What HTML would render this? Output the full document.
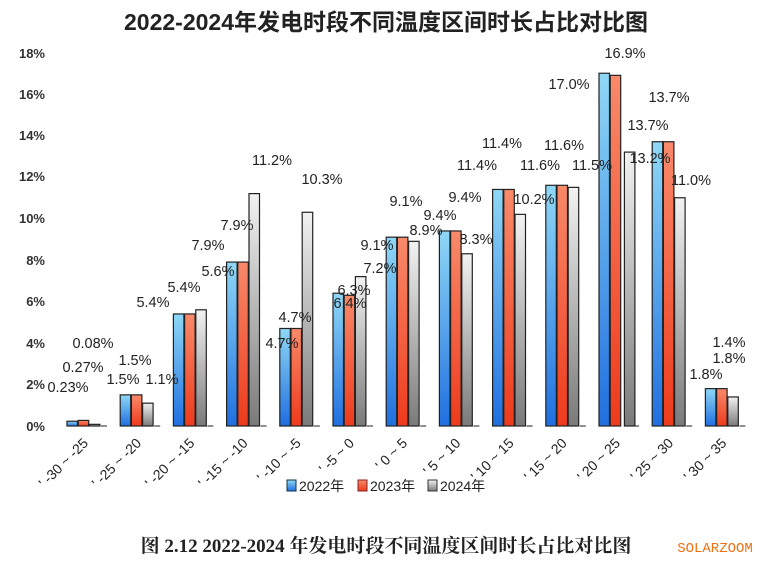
<!DOCTYPE html><html><head><meta charset="utf-8"><style>body{margin:0;background:#fff}svg{display:block}</style></head><body>
<svg width="772" height="578" viewBox="0 0 772 578" xmlns="http://www.w3.org/2000/svg" font-family="Liberation Sans, Noto Sans CJK SC, sans-serif">
<defs>
<linearGradient id="b" x1="0" y1="0" x2="0" y2="1"><stop offset="0" stop-color="#8fd8f6"/><stop offset="1" stop-color="#1f6fe0"/></linearGradient>
<linearGradient id="r" x1="0" y1="0" x2="0" y2="1"><stop offset="0" stop-color="#f88a6a"/><stop offset="1" stop-color="#ee3a1c"/></linearGradient>
<linearGradient id="g" x1="0" y1="0" x2="0" y2="1"><stop offset="0" stop-color="#f2f2f2"/><stop offset="1" stop-color="#7a7a7a"/></linearGradient>
</defs>
<text x="386" y="30" text-anchor="middle" font-size="23" font-weight="bold" fill="#222">2022-2024年发电时段不同温度区间时长占比对比图</text>
<g font-size="13" font-weight="bold" fill="#333" text-anchor="end">
<text x="45" y="58">18%</text><text x="45" y="99">16%</text><text x="45" y="140">14%</text><text x="45" y="181">12%</text><text x="45" y="223">10%</text><text x="45" y="265">8%</text><text x="45" y="306">6%</text><text x="45" y="348">4%</text><text x="45" y="389">2%</text><text x="45" y="431">0%</text>
</g>
<g id="bars" stroke="#222" stroke-width="1.2"></g>
<g id="labs" font-size="14.5" fill="#222" text-anchor="middle"></g>
<g id="cats" font-size="14" fill="#222"></g>
<g font-size="14" fill="#222">
<rect x="287" y="480" width="9" height="11" fill="url(#b)" stroke="#134"/><text x="299" y="491">2022年</text>
<rect x="358" y="480" width="9" height="11" fill="url(#r)" stroke="#822"/><text x="370" y="491">2023年</text>
<rect x="428" y="480" width="9" height="11" fill="url(#g)" stroke="#333"/><text x="440" y="491">2024年</text>
</g>
<text x="386" y="552" text-anchor="middle" font-size="19" font-weight="bold" fill="#222" font-family="Liberation Serif, Noto Serif CJK SC, serif">图 2.12 2022-2024 年发电时段不同温度区间时长占比对比图</text>
<text x="715" y="552" text-anchor="middle" font-size="14" fill="#f07010" font-family="Liberation Mono, monospace">SOLARZOOM</text>
<script>
var d=[[0.23,0.27,0.08],[1.5,1.5,1.1],[5.4,5.4,5.6],[7.9,7.9,11.2],[4.7,4.7,10.3],[6.4,6.3,7.2],[9.1,9.1,8.9],[9.4,9.4,8.3],[11.4,11.4,10.2],[11.6,11.6,11.5],[17.0,16.9,13.2],[13.7,13.7,11.0],[1.8,1.8,1.4]];
var L=[[[68,392],[83,372],[93,348]],[[123,384],[135,365],[162,384]],[[153,307],[184,292],[218,276]],[[208,250],[237,230],[272,165]],[[282,348],[295,322],[322,184]],[[350,308],[354,295],[380,273]],[[377,250],[406,206],[426,235]],[[440,220],[465,202],[476,244]],[[477,170],[502,148],[534,204]],[[540,170],[564,150],[592,170]],[[569,89],[625,58],[650,163]],[[648,130],[669,102],[691,185]],[[706,379],[729,363],[729,347]]];
var cats=["-30 ~ -25","-25 ~ -20","-20 ~ -15","-15 ~ -10","-10 ~ -5","-5 ~ 0","0 ~ 5","5 ~ 10","10 ~ 15","15 ~ 20","20 ~ 25","25 ~ 30","30 ~ 35"];
var ns="http://www.w3.org/2000/svg",B=document.getElementById("bars"),T=document.getElementById("labs"),C=document.getElementById("cats");
function el(t,a,p){var e=document.createElementNS(ns,t);for(var k in a)e.setAttribute(k,a[k]);p.appendChild(e);return e;}
var f=["url(#b)","url(#r)","url(#g)"];
for(var i=0;i<13;i++){var x0=67+i*53.2;
for(var j=0;j<3;j++){var v=d[i][j],h=v*20.75,x=x0+j*11.2;if(i==10&&j==2)x+=3;
el("rect",{x:x,y:426-h,width:10.5,height:h,fill:f[j]},B);
var t=el("text",{x:L[i][j][0],y:L[i][j][1]},T);t.textContent=(v<1&&i==0?v.toFixed(2):v.toFixed(1))+"%";}
el("line",{x1:x0+34,y1:426,x2:x0+40,y2:426,"stroke-width":1},B);
var cx=x0+22,c=el("text",{x:cx,y:444,"text-anchor":"end",transform:"rotate(-45 "+cx+" 444)"},C);c.textContent="' "+cats[i];}
</script>
</svg></body></html>
